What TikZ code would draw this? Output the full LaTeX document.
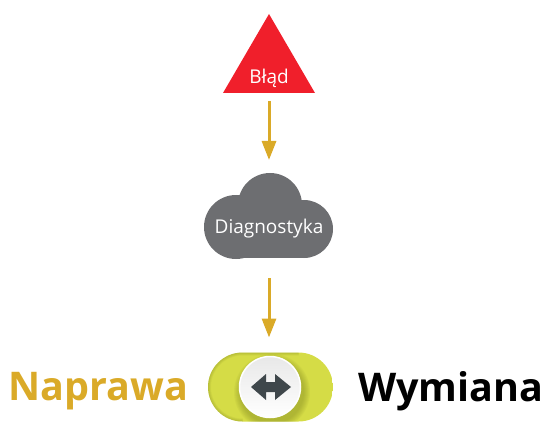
\documentclass[tikz,border=0pt]{standalone}
\usepackage{fontspec}
\setmainfont{Open Sans}
\usetikzlibrary{arrows.meta}
\definecolor{zloty}{HTML}{DAAA28}
\definecolor{czerw}{HTML}{F01F2B}
\definecolor{szary}{HTML}{6D6E71}
\definecolor{oliwka}{HTML}{D5DC46}
\definecolor{cien}{HTML}{7E8420}
\definecolor{ciemny}{HTML}{3F474B}
\tikzset{
    BX/.style ={rectangle,inner sep=0pt,outer sep=0pt},
    TX/.style ={text=white,font=\fontsize{19}{20}\selectfont},
    LB/.style ={font=\bfseries\fontsize{39.5}{44}\selectfont},
    AR/.style ={draw=zloty,line width=3pt,-{Triangle[width=14pt,length=19pt,fill=zloty]}}}

\begin{document}
\begin{tikzpicture}[x=1pt,y=-1pt]
        \useasboundingbox (0,0) rectangle (543,422);
        % triangle
        \fill[czerw] (269,14) -- (315,93) -- (223,93) -- cycle;
        \node[BX,minimum width=92pt,minimum height=79pt] (Blad) at (269,53.5) {};
        \node[TX] (BladT) at (269,78.5) {Błąd};
        % cloud
        \fill[szary] (236,227) circle[radius=32];
        \fill[szary] (270,205) circle[radius=32];
        \fill[szary] (304,229) circle[radius=29];
        \fill[szary] (236,200) rectangle (304,258);
        \node[BX,minimum width=129pt,minimum height=85pt] (Diag) at (268.5,215.5) {};
        \node[TX] (DiagT) at (269,229) {Diagnostyka};
        % switch
        \begin{scope}
        \clip[rounded corners=34.5] (208,352.5) rectangle (333,421.5);
        \fill[oliwka] (208,352) rectangle (333,422);
        \foreach \r in {1,2,...,6}
            \draw[cien,opacity=.06,line width=\r pt] (242.5,421.5) arc[start angle=90,end angle=270,radius=34.5] -- (298.5,352.5);
        \foreach \r in {32,33,...,38}
            \fill[cien,opacity=.07] (272,392) circle[radius=\r];
        \end{scope}
        \node[BX,minimum width=125pt,minimum height=69pt] (Prze) at (270.5,387) {};
        \shade[top color=white!91!black,bottom color=white,draw=white,line width=1.5pt] (270,387) circle[radius=30.5];
        \fill[ciemny] (251,387) -- (266,374) -- (266,382) -- (275,382) -- (275,374) -- (291,387)
        -- (275,400) -- (275,392) -- (266,392) -- (266,400) -- cycle;
        \node[LB,text=zloty,anchor=east] (Napr) at (192,391) {Naprawa};
        \node[LB,text=black,anchor=west] (Wym) at (354.5,391) {Wymiana};
        % arrows
        \draw[AR,shorten <=8pt,shorten >=13pt] (Blad.south) -- (Diag.north -| Blad.south);
        \draw[AR,shorten <=20pt,shorten >=15pt] (Diag.south -| Blad.south) -- (Prze.north -| Blad.south);
    \end{tikzpicture}
\end{document}
